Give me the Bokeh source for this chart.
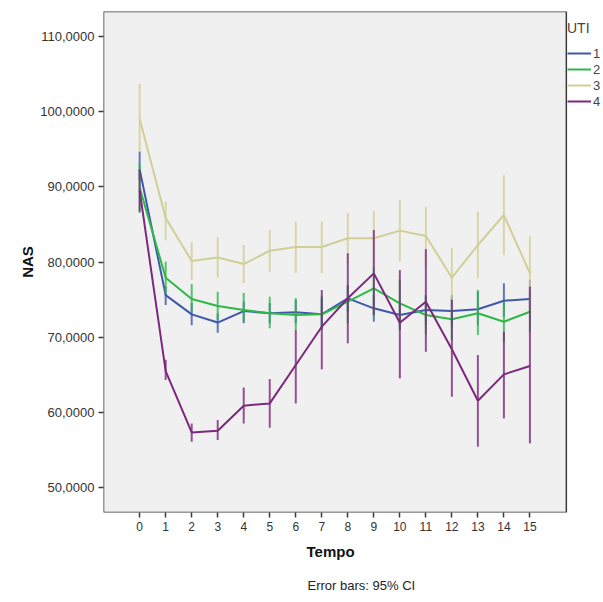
from bokeh.plotting import figure
from bokeh.models import FixedTicker, Legend, LegendItem, Title, Range1d, BoxAnnotation
from bokeh.embed import file_html
from bokeh.resources import INLINE

tempo = list(range(16))

uti_labels = ["1", "2", "3", "4"]
colors = ["#3E58AC", "#2EB848", "#D3CE97", "#7C287D"]

mean_1 = [92300, 75600, 73040, 71950, 73480, 73180, 73310, 73040, 75170, 73840, 72950, 73620, 73480, 73710, 74850, 75080]
lo_1 = [90900, 74300, 71600, 70600, 71850, 71850, 71850, 71200, 73390, 72070, 70970, 71630, 71400, 71630, 72720, 73220]
hi_1 = [94700, 76700, 74550, 73180, 74720, 74550, 74950, 75200, 76940, 75610, 74500, 75610, 75610, 76050, 77170, 77600]

mean_2 = [89900, 77900, 75080, 74150, 73620, 73180, 72950, 73040, 74720, 76500, 74500, 72950, 72380, 73180, 72060, 73390]
lo_2 = [86500, 75800, 73400, 72290, 72070, 71190, 70970, 71000, 71850, 72720, 71300, 70400, 69630, 70300, 69400, 70730]
hi_2 = [93200, 80040, 77070, 76050, 75880, 75390, 75210, 75500, 76720, 79380, 77700, 75500, 75390, 76280, 74700, 75880]

mean_3 = [99000, 85850, 80130, 80600, 79730, 81500, 82000, 82000, 83150, 83150, 84170, 83460, 77910, 82260, 86250, 78500]
lo_3 = [94700, 82900, 77600, 77900, 77200, 78670, 78530, 78530, 79870, 79600, 80040, 79380, 73600, 77830, 80930, 73600]
hi_3 = [103700, 88000, 82660, 83300, 82260, 84260, 85360, 85360, 86500, 86800, 88250, 87360, 81860, 86700, 91570, 83400]

mean_4 = [89500, 65500, 57350, 57570, 60900, 61200, 66300, 71400, 75170, 78490, 71930, 74720, 68400, 61560, 65060, 66170]
lo_4 = [86700, 64300, 56100, 56330, 58540, 57970, 61200, 65730, 69190, 72950, 64530, 68070, 62090, 55440, 59210, 55890]
hi_4 = [92300, 67000, 58540, 58990, 63330, 64440, 70970, 76280, 81150, 84260, 78940, 81690, 75000, 67630, 70730, 76720]

y_ticks = [50000, 60000, 70000, 80000, 90000, 100000, 110000]
y_tick_labels = ["50,0000", "60,0000", "70,0000", "80,0000", "90,0000", "100,0000", "110,0000"]

means = [mean_1, mean_2, mean_3, mean_4]
los = [lo_1, lo_2, lo_3, lo_4]
his = [hi_1, hi_2, hi_3, hi_4]

X_LO, X_HI = -1.39, 16.4      # plot-area extent along Tempo
X_PAD = 17.79                 # extra room on the right for the legend

p = figure(width=602, height=602, output_backend="svg", toolbar_location=None,
           x_range=Range1d(X_LO, X_PAD), y_range=Range1d(46700, 113300),
           min_border_left=103, min_border_right=0, min_border_top=11, min_border_bottom=90)
p.background_fill_color = "white"
p.border_fill_color = "white"
p.outline_line_color = None
p.grid.visible = False

# grey plot area with dark frame
p.add_layout(BoxAnnotation(left=X_LO, right=X_HI, fill_color="#F0F0F0", fill_alpha=1,
                           line_color="#3A3A3A", line_alpha=1, line_width=1.5, level="underlay"))

FONT = "Liberation Sans"

p.yaxis.ticker = FixedTicker(ticks=y_ticks)
p.yaxis.major_label_overrides = {t: l for t, l in zip(y_ticks, y_tick_labels)}
p.xaxis.ticker = FixedTicker(ticks=tempo)
for ax in (p.xaxis, p.yaxis):
    ax.axis_line_color = None
    ax.major_tick_line_color = "#3A3A3A"
    ax.major_tick_line_width = 1.5
    ax.major_tick_out = 5
    ax.major_tick_in = 0
    ax.minor_tick_line_color = None
    ax.major_label_text_font = FONT
    ax.major_label_text_color = "#333333"
    ax.axis_label_text_font = FONT
    ax.axis_label_text_font_style = "bold"
    ax.axis_label_text_font_size = "15px"
    ax.axis_label_text_color = "#111111"
p.yaxis.major_label_text_font_size = "13px"
p.xaxis.major_label_text_font_size = "12px"
p.yaxis.axis_label = "NAS"
p.yaxis.major_label_standoff = 4
p.xaxis.major_label_standoff = 4
p.yaxis.axis_label_standoff = 1

items = []
for lab, col, m, lo, hi in zip(uti_labels, colors, means, los, his):
    r = p.line(tempo, m, line_color=col, line_width=2)
    p.segment(x0=tempo, y0=lo, x1=tempo, y1=hi, line_color=col, line_width=2, line_alpha=0.8)
    items.append(LegendItem(label=lab, renderers=[r]))

legend = Legend(items=items, title="UTI", location=(464, 403),
                title_text_font=FONT, title_text_font_size="14px", title_text_font_style="normal",
                label_text_font=FONT, label_text_font_size="13px",
                glyph_width=24, glyph_height=16, label_height=16, label_standoff=2,
                spacing=0, padding=0, margin=0, title_standoff=9,
                background_fill_alpha=0, border_line_color=None)
p.add_layout(legend, "center")

xlabel = Title(text="Tempo", align="left", offset=203, standoff=15,
               text_font=FONT, text_font_size="15px", text_font_style="bold", text_color="#111111")
p.add_layout(xlabel, "below")

note = Title(text="Error bars: 95% CI", align="left", offset=204, standoff=17,
             text_font=FONT, text_font_size="13px", text_font_style="normal", text_color="#222222")
p.add_layout(note, "below")

open("out.html", "w").write(file_html(p, INLINE))
